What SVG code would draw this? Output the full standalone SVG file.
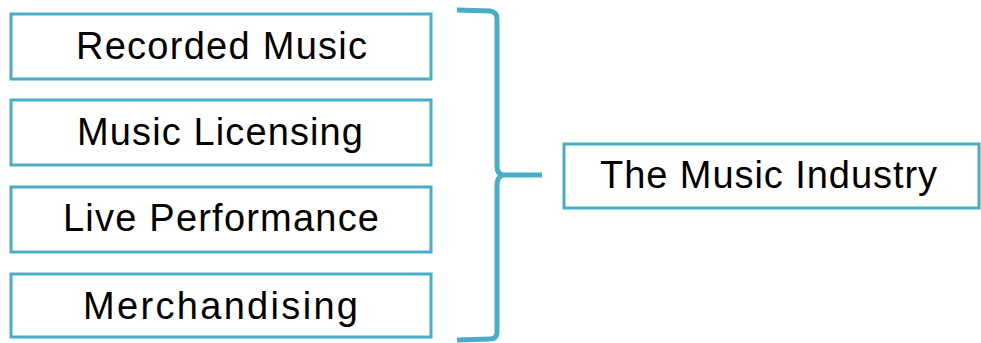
<svg xmlns="http://www.w3.org/2000/svg" width="981" height="343" viewBox="0 0 981 343">
  <style>
    .box { fill: #ffffff; stroke: #4BACC6; stroke-width: 3; }
    .label { font-family: "Liberation Sans", Arial, sans-serif; font-size: 38px; fill: #000000; text-anchor: middle; }
    .brace { fill: none; stroke: #4BACC6; stroke-width: 5; stroke-linecap: butt; stroke-linejoin: round; }
  </style>
  <rect width="981" height="343" fill="#ffffff"/>

  <g id="recorded-music">
    <rect class="box" x="11" y="14" width="420" height="65"/>
    <text class="label" x="221.5" y="59" textLength="291" lengthAdjust="spacing">Recorded Music</text>
  </g>
  <g id="music-licensing">
    <rect class="box" x="11" y="100" width="420" height="65"/>
    <text class="label" x="220" y="145" textLength="286" lengthAdjust="spacing">Music Licensing</text>
  </g>
  <g id="live-performance">
    <rect class="box" x="11" y="187" width="420" height="65"/>
    <text class="label" x="221" y="231" textLength="316" lengthAdjust="spacing">Live Performance</text>
  </g>
  <g id="merchandising">
    <rect class="box" x="11" y="274" width="420" height="63"/>
    <text class="label" x="220.5" y="319" textLength="275" lengthAdjust="spacing">Merchandising</text>
  </g>

  <g id="connectors">
    <!-- curly brace gathering the four sources -->
    <path class="brace" d="M457,10 L490,11 Q497,12 497,19 L497,166 Q497,174 503,175 L542,175 M503,175 Q497,177 497,185 L497,332 Q497,339 490,339 L457,340"/>
  </g>

  <g id="music-industry">
    <rect class="box" x="564" y="144" width="415" height="64"/>
    <text class="label" x="768.5" y="188" textLength="337" lengthAdjust="spacing">The Music Industry</text>
  </g>
</svg>
